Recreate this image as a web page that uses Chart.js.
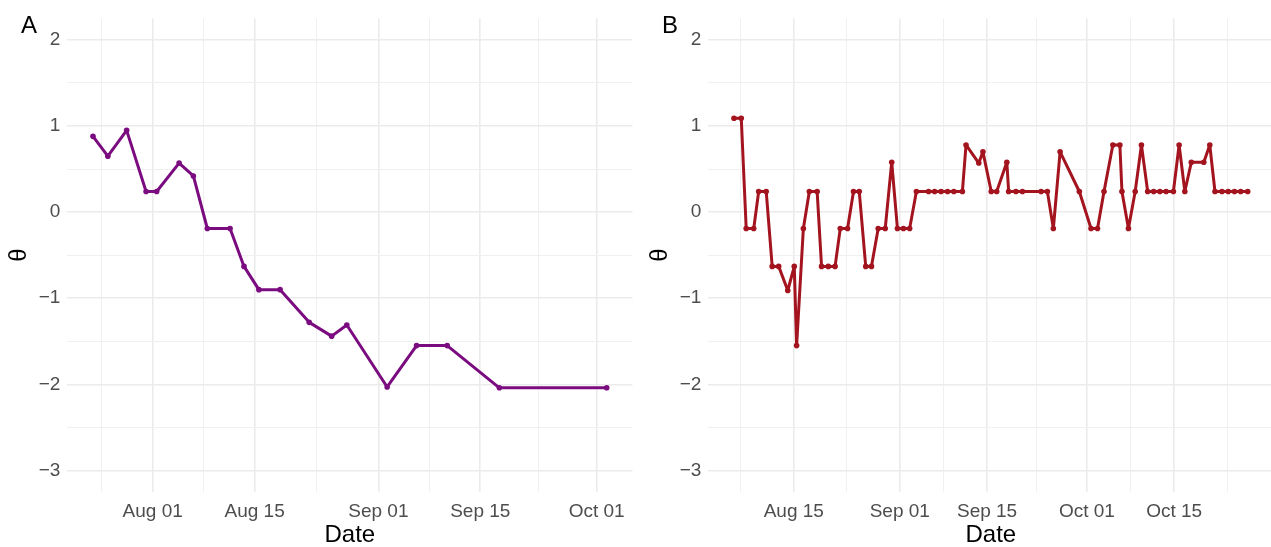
<!DOCTYPE html>
<html>
<head>
<meta charset="utf-8">
<script src="https://cdn.jsdelivr.net/npm/chart.js@4.4.1/dist/chart.umd.min.js"></script>
<style>
  html, body { margin: 0; padding: 0; background: #ffffff; width: 1271px; height: 547px; overflow: hidden; }
  .panel { position: absolute; top: 0; width: 636px; height: 547px; }
  #panelA { left: 0; }
  #panelB { left: 641px; }
</style>
</head>
<body>
<div class="panel" id="panelA"><canvas id="chartA" width="636" height="547"></canvas></div>
<div class="panel" id="panelB"><canvas id="chartB" width="636" height="547"></canvas></div>
<script>
// Person A: measurement times and ability estimates
const timesA = [
  '2022-07-23 19:00', '2022-07-25 20:00', '2022-07-28 10:00', '2022-07-31 02:00',
  '2022-08-01 13:00', '2022-08-04 15:00', '2022-08-06 14:00', '2022-08-08 12:00',
  '2022-08-11 15:00', '2022-08-13 13:00', '2022-08-15 14:00', '2022-08-18 12:00',
  '2022-08-22 12:00', '2022-08-25 14:00', '2022-08-27 16:00', '2022-09-02 05:00',
  '2022-09-06 06:00', '2022-09-10 11:00', '2022-09-17 15:00', '2022-10-02 09:00'
];
const thetaA = [
  0.88, 0.65, 0.95, 0.24,
  0.24, 0.57, 0.42, -0.19,
  -0.19, -0.63, -0.90, -0.90,
  -1.28, -1.44, -1.31, -2.03,
  -1.55, -1.55, -2.04, -2.04
];

// Person B: measurement times and ability estimates
const timesB = [
  '2022-08-05 10:00', '2022-08-06 14:00', '2022-08-07 09:00', '2022-08-08 14:00',
  '2022-08-09 09:00', '2022-08-10 14:00', '2022-08-11 13:00', '2022-08-12 14:00',
  '2022-08-14 01:00', '2022-08-15 02:00', '2022-08-15 11:00', '2022-08-16 13:00',
  '2022-08-17 12:00', '2022-08-18 18:00', '2022-08-19 11:00', '2022-08-20 13:00',
  '2022-08-21 15:00', '2022-08-22 11:00', '2022-08-23 15:00', '2022-08-24 14:00',
  '2022-08-25 12:00', '2022-08-26 13:00', '2022-08-27 11:00', '2022-08-28 13:00',
  '2022-08-29 16:00', '2022-08-30 17:00', '2022-08-31 15:00', '2022-09-01 14:00',
  '2022-09-02 14:00', '2022-09-03 16:00', '2022-09-05 15:00', '2022-09-06 14:00',
  '2022-09-07 15:00', '2022-09-08 16:00', '2022-09-09 16:00', '2022-09-11 01:00',
  '2022-09-11 15:00', '2022-09-13 16:00', '2022-09-14 08:00', '2022-09-15 16:00',
  '2022-09-16 13:00', '2022-09-18 04:00', '2022-09-18 11:00', '2022-09-19 15:00',
  '2022-09-20 16:00', '2022-09-23 16:00', '2022-09-24 16:00', '2022-09-25 15:00',
  '2022-09-26 17:00', '2022-09-29 19:00', '2022-10-01 16:00', '2022-10-02 17:00',
  '2022-10-03 18:00', '2022-10-05 04:00', '2022-10-06 07:00', '2022-10-06 15:00',
  '2022-10-07 16:00', '2022-10-08 18:00', '2022-10-09 18:00', '2022-10-10 18:00',
  '2022-10-11 17:00', '2022-10-12 17:00', '2022-10-13 17:00', '2022-10-14 21:00',
  '2022-10-15 19:00', '2022-10-16 17:00', '2022-10-17 18:00', '2022-10-19 18:00',
  '2022-10-20 17:00', '2022-10-21 13:00', '2022-10-22 16:00', '2022-10-23 16:00',
  '2022-10-24 16:00', '2022-10-25 16:00', '2022-10-26 19:00'
];
const thetaB = [
  1.09, 1.09, -0.19, -0.19,
  0.24, 0.24, -0.63, -0.63,
  -0.91, -0.63, -1.55, -0.19,
  0.24, 0.24, -0.63, -0.63,
  -0.63, -0.19, -0.19, 0.24,
  0.24, -0.63, -0.63, -0.19,
  -0.19, 0.58, -0.19, -0.19,
  -0.19, 0.24, 0.24, 0.24,
  0.24, 0.24, 0.24, 0.24,
  0.78, 0.57, 0.70, 0.24,
  0.24, 0.58, 0.24, 0.24,
  0.24, 0.24, 0.24, -0.19,
  0.70, 0.24, -0.19, -0.19,
  0.24, 0.78, 0.78, 0.24,
  -0.19, 0.24, 0.78, 0.24,
  0.24, 0.24, 0.24, 0.24,
  0.78, 0.24, 0.58, 0.58,
  0.78, 0.24, 0.24, 0.24,
  0.24, 0.24, 0.24
];

// Axis breaks
const dateBreaksA = ['2022-08-01', '2022-08-15', '2022-09-01', '2022-09-15', '2022-10-01'];
const dateBreaksB = ['2022-08-15', '2022-09-01', '2022-09-15', '2022-10-01', '2022-10-15'];
const thetaBreaks = [-3, -2, -1, 0, 1, 2];
const thetaLimits = [-3, 2];
const monthNames = ['Jan', 'Feb', 'Mar', 'Apr', 'May', 'Jun', 'Jul', 'Aug', 'Sep', 'Oct', 'Nov', 'Dec'];

const FONT = "'Liberation Sans', Arial, Helvetica, sans-serif";
Chart.defaults.font.family = FONT;

const DAY_MS = 86400000;
function toDays(s) {
  const [d, t = '00:00'] = s.split(' ');
  const [y, m, dd] = d.split('-').map(Number);
  const [hh, mm] = t.split(':').map(Number);
  return Date.UTC(y, m - 1, dd, hh, mm) / DAY_MS;
}
function dateLabel(days) {
  const dt = new Date(Math.round(days * DAY_MS));
  return monthNames[dt.getUTCMonth()] + ' ' + String(dt.getUTCDate()).padStart(2, '0');
}
function numLabel(v) {
  return v < 0 ? '\u2212' + Math.abs(v) : String(v);
}
// continuous range widened by 5% on each side
function expand(lo, hi) {
  const pad = (hi - lo) * 0.05;
  return [lo - pad, hi + pad];
}
// minor grid positions halfway between major breaks (extended one step past the ends)
function minorBreaks(major, lo, hi) {
  const b = major.slice();
  const step = b[1] - b[0];
  if (lo < b[0]) b.unshift(b[0] - step);
  if (hi > b[b.length - 1]) b.push(b[b.length - 1] + step);
  const out = [];
  for (let i = 0; i < b.length - 1; i++) out.push((b[i] + b[i + 1]) / 2);
  return out.filter(v => v > lo && v < hi);
}
function tickList(major, lo, hi) {
  const ticks = major.filter(v => v >= lo && v <= hi).map(v => ({ value: v, minor: false }));
  minorBreaks(major, lo, hi).forEach(v => ticks.push({ value: v, minor: true }));
  return ticks.sort((a, b) => a.value - b.value);
}

const gridColor = ctx => (ctx.tick && ctx.tick.minor) ? '#F0F0F0' : '#EBEBEB';
const gridWidth = ctx => (ctx.tick && ctx.tick.minor) ? 1 : 1.6;

function tagPlugin(tag) {
  return {
    id: 'panelTag',
    afterDraw(chart) {
      const c = chart.ctx;
      c.save();
      c.fillStyle = '#000000';
      c.font = '24px ' + FONT;
      c.textBaseline = 'alphabetic';
      c.textAlign = 'left';
      c.fillText(tag, 21, 33);
      c.restore();
    }
  };
}

function makePanel(canvasId, times, values, breaks, color, tag) {
  const xs = times.map(toDays);
  const [xMin, xMax] = expand(Math.min(...xs), Math.max(...xs));
  const [yMin, yMax] = expand(thetaLimits[0], thetaLimits[1]);
  const xMajor = breaks.map(toDays);
  const points = xs.map((x, i) => ({ x: x, y: values[i] }));

  return new Chart(document.getElementById(canvasId), {
    type: 'line',
    data: {
      datasets: [{
        data: points,
        borderColor: color,
        backgroundColor: color,
        pointBackgroundColor: color,
        pointBorderColor: color,
        borderWidth: 3,
        borderJoinStyle: 'round',
        borderCapStyle: 'round',
        pointRadius: 2.8,
        pointBorderWidth: 0,
        pointHoverRadius: 2.8,
        tension: 0
      }]
    },
    options: {
      responsive: false,
      animation: false,
      events: [],
      layout: { padding: { left: 0, top: 14, right: 3.6, bottom: 0 } },
      plugins: { legend: { display: false }, tooltip: { enabled: false } },
      scales: {
        x: {
          type: 'linear',
          min: xMin,
          max: xMax,
          afterBuildTicks: s => { s.ticks = tickList(xMajor, xMin, xMax); },
          afterFit: s => { s.height = 55; },
          border: { display: false },
          grid: { drawTicks: false, color: gridColor, lineWidth: gridWidth },
          ticks: {
            autoSkip: false,
            maxRotation: 0,
            padding: 8,
            color: '#4D4D4D',
            font: { size: 19 },
            callback: (v, i, t) => (t[i] && t[i].minor) ? '' : dateLabel(v)
          },
          title: {
            display: true,
            text: 'Date',
            color: '#000000',
            font: { size: 24, lineHeight: 1 },
            padding: { top: 0, bottom: 0 }
          }
        },
        y: {
          type: 'linear',
          min: yMin,
          max: yMax,
          afterBuildTicks: s => { s.ticks = tickList(thetaBreaks, yMin, yMax); },
          afterFit: s => { s.width = 67.3; },
          border: { display: false },
          grid: { drawTicks: false, color: gridColor, lineWidth: gridWidth },
          ticks: {
            autoSkip: false,
            padding: 7,
            color: '#4D4D4D',
            font: { size: 19 },
            callback: (v, i, t) => (t[i] && t[i].minor) ? '' : numLabel(v)
          },
          title: {
            display: true,
            text: '\u03B8',
            color: '#000000',
            font: { size: 24, lineHeight: 1 },
            padding: { top: 7, bottom: 0 }
          }
        }
      }
    },
    plugins: [tagPlugin(tag)]
  });
}

makePanel('chartA', timesA, thetaA, dateBreaksA, '#7B0C80', 'A');
makePanel('chartB', timesB, thetaB, dateBreaksB, '#A3141F', 'B');
</script>
</body>
</html>
